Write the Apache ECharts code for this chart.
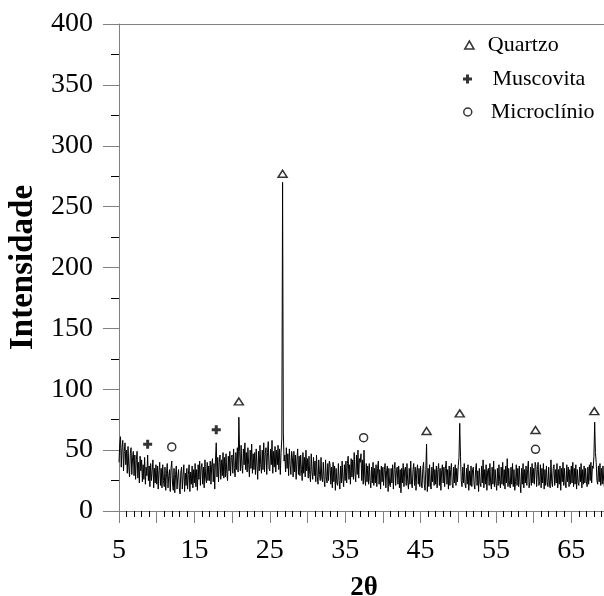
<!DOCTYPE html>
<html><head><meta charset="utf-8">
<script src="https://cdn.jsdelivr.net/npm/echarts@6/dist/echarts.min.js"></script>
<style>html,body{margin:0;padding:0;background:#fff}#c{width:604px;height:596px}</style>
</head><body><div id="c"></div>
<script>
// Sampling grid of the diffractogram (2θ, degrees)
const xStart = 5, xStep = 0.1;
// Intensities, one value per 0.1°
const intensity05to15 = [
 40,55,61,36,52,58,33,49,56,38,
 50,31,53,36,28,47,52,30,44,49,
 29,46,26,42,49,27,40,23,45,33,
 42,24,38,26,44,22,36,29,46,25,
 37,20,39,25,33,42,19,35,23,38,
 22,37,18,33,40,21,35,19,38,25,
 20,36,17,31,39,19,29,34,16,35,
 41,22,17,35,15,30,37,18,28,34,
 19,14,32,36,18,29,38,16,31,21,
 35,18,30,38,16,32,22,37,19,34];
const intensity15to25 = [
 23,39,20,34,17,38,26,41,21,36,
 39,22,36,19,42,27,23,40,25,37,
 25,41,22,38,43,24,39,18,42,56,
 28,44,24,40,46,26,42,29,48,27,
 44,28,47,31,25,45,33,49,29,44,
 46,31,51,35,28,48,34,52,32,77,
 49,33,54,37,31,51,38,56,34,48,
 32,52,38,28,50,35,55,31,47,34,
 48,30,51,37,26,49,33,54,38,31,
 50,34,56,32,47,52,30,48,57,35];
const intensity25to35 = [
 33,51,38,58,31,49,36,53,32,50,
 38,54,34,51,30,48,60,270,64,41,
 46,32,52,35,47,29,51,38,30,49,
 44,28,49,32,46,26,42,51,30,45,
 29,46,34,25,48,31,44,28,50,33,
 43,27,45,30,24,47,32,26,44,29,
 41,24,46,28,22,42,30,25,44,27,
 24,40,26,20,42,28,23,39,25,41,
 38,22,36,19,40,24,37,17,35,23,
 21,39,25,18,37,23,41,26,20,38];
const intensity35to45 = [
 25,41,23,39,45,26,38,22,43,28,
 42,26,48,31,24,46,30,50,27,43,
 40,47,25,42,22,50,28,21,39,24,
 37,22,39,25,19,36,23,40,21,35,
 23,38,20,35,41,22,34,18,37,24,
 36,21,34,39,19,33,37,16,35,22,
 20,35,23,38,18,34,40,21,33,36,
 22,37,19,34,15,35,23,39,20,34,
 36,21,39,24,18,35,22,41,23,19,
 34,39,21,36,17,33,38,22,35,20];
const intensity45to55 = [
 37,23,19,35,40,22,17,34,55,16,
 35,20,38,23,18,36,24,40,21,34,
 22,37,19,34,39,21,35,17,33,38,
 23,36,20,35,41,22,34,18,37,21,
 34,39,22,19,36,23,38,21,35,24,
 37,44,72,45,25,20,36,23,39,22,
 19,35,22,38,17,33,21,37,20,34,
 36,22,18,34,39,21,33,16,35,23,
 20,37,23,42,19,34,22,38,17,33,
 35,21,39,23,18,36,22,41,20,34];
const intensity55to65 = [
 23,17,35,21,38,24,19,36,22,40,
 21,34,18,37,23,43,20,35,22,19,
 36,22,39,20,34,17,24,38,21,35,
 20,37,23,15,35,22,39,19,34,23,
 37,21,34,41,19,24,36,21,39,23,
 35,22,40,37,20,34,40,21,24,38,
 19,35,23,39,18,34,21,37,24,20,
 36,22,19,42,24,20,35,38,21,34,
 23,39,19,34,22,37,17,35,24,40,
 21,35,23,19,38,24,36,20,34,22];
const intensity65to70 = [
 37,23,40,20,35,22,38,18,34,23,
 21,36,24,39,19,34,22,37,23,35,
 24,20,36,22,38,25,40,23,37,35,
 45,73,48,40,25,22,37,24,39,21,
 35,22,37,24,19,36,23,34,21,35,
 29];

// Phase markers [2θ, height]
const quartzoMarks = [[20.9,90],[26.7,277],[45.8,65.7],[50.2,80.2],[60.25,66.5],[68.05,82]];
const muscovitaMarks = [[8.8,54.8],[17.9,66.8]];
const microclinioMarks = [[12.0,52.6],[37.45,60.2],[60.25,50.7]];

const seriesNames = ['Quartzo','Muscovita','Microclínio'];
const yTicks = {min:0, max:400, interval:50};
const xTicks = {min:5, max:70, interval:5};

const intensity = [].concat(intensity05to15, intensity15to25, intensity25to35,
  intensity35to45, intensity45to55, intensity55to65, intensity65to70);
const lineData = intensity.map((v,i)=>[Math.round((xStart + i*xStep)*10)/10, v]);

const FONT = 'Liberation Serif';
const triPath = 'path://M5,0L10,8.66L0,8.66Z';
const crossPath = 'path://M3,0H6V3H9V6H6V9H3V6H0V3H3Z';
const legendText = {fontFamily:FONT, fontSize:22, color:'#000'};

const chart = echarts.init(document.getElementById('c'), null, {renderer:'canvas'});
chart.setOption({
  animation:false,
  backgroundColor:'#fff',
  grid:{left:119, top:24, right:-5, bottom:85, containLabel:false, outerBoundsMode:'none'},
  legend:[
    {data:[{name:seriesNames[0], icon:triPath}], orient:'vertical', left:464, top:34, padding:0,
     itemWidth:27, itemHeight:8, textStyle:legendText,
     itemStyle:{color:'#fff', borderColor:'#000', borderWidth:1.5}, selectedMode:false},
    {data:[{name:seriesNames[1], icon:crossPath}], orient:'vertical', left:463, top:68, padding:0,
     itemWidth:40, itemHeight:9, textStyle:legendText,
     itemStyle:{color:'#000', borderWidth:0}, selectedMode:false},
    {data:[{name:seriesNames[2], icon:'circle'}], orient:'vertical', left:463, top:101, padding:0,
     itemWidth:36, itemHeight:8, textStyle:legendText,
     itemStyle:{color:'#fff', borderColor:'#000', borderWidth:1.5}, selectedMode:false}
  ],
  xAxis:[{
    type:'value', min:xTicks.min, max:xTicks.max, interval:xTicks.interval,
    name:'2θ', nameLocation:'middle', nameGap:64,
    nameTextStyle:{fontFamily:FONT, fontSize:27, fontWeight:'bold', color:'#000'},
    axisLine:{show:true, onZero:false, lineStyle:{color:'#808080', width:1}},
    axisTick:{show:true, inside:false, length:12, lineStyle:{color:'#808080', width:1}},
    minorTick:{show:true, splitNumber:5, length:6, lineStyle:{color:'#000', width:1}},
    axisLabel:{margin:26, fontFamily:FONT, fontSize:28, color:'#000',
      formatter:v=> ((v-5)%10===0 ? String(v) : '')},
    splitLine:{show:false}
  },{
    type:'value', position:'top', min:xTicks.min, max:xTicks.max,
    axisLine:{show:true, onZero:false, lineStyle:{color:'#808080', width:1}},
    axisTick:{show:false}, axisLabel:{show:false}, splitLine:{show:false}
  }],
  yAxis:{
    type:'value', min:yTicks.min, max:yTicks.max, interval:yTicks.interval,
    name:'Intensidade', nameLocation:'middle', nameGap:79, nameRotate:90,
    nameTextStyle:{fontFamily:FONT, fontSize:33, fontWeight:'bold', color:'#000'},
    axisLine:{show:true, lineStyle:{color:'#808080', width:1}},
    axisTick:{show:true, inside:false, length:16, lineStyle:{color:'#808080', width:1}},
    minorTick:{show:true, splitNumber:2, length:8, lineStyle:{color:'#000', width:1}},
    axisLabel:{margin:26, fontFamily:FONT, fontSize:28, color:'#000'},
    splitLine:{show:false}
  },
  series:[
    {type:'line', data:lineData, showSymbol:false, symbol:'none',
     lineStyle:{color:'#000', width:1}, z:2, silent:true},
    {name:seriesNames[0], type:'scatter', data:quartzoMarks, symbol:triPath, symbolSize:[9,7],
     itemStyle:{color:'#fff', borderColor:'#000', borderWidth:1.5}, z:5},
    {name:seriesNames[1], type:'scatter', data:muscovitaMarks, symbol:crossPath, symbolSize:9,
     itemStyle:{color:'#000'}, z:5},
    {name:seriesNames[2], type:'scatter', data:microclinioMarks, symbol:'circle', symbolSize:8,
     itemStyle:{color:'#fff', borderColor:'#000', borderWidth:1.5}, z:5}
  ]
});
</script>
</body></html>
